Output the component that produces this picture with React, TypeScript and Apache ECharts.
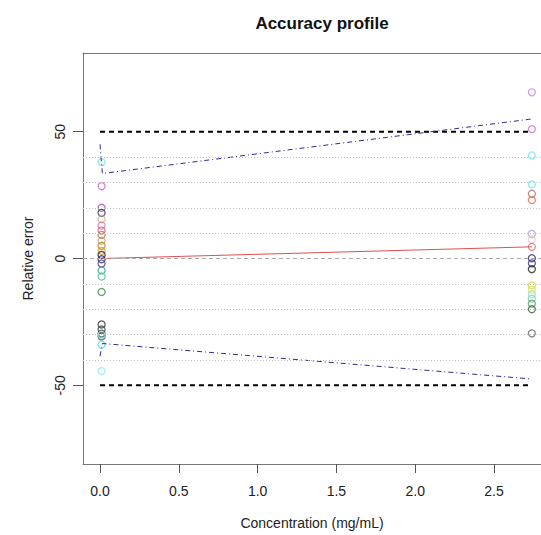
import React, { useEffect, useRef } from "react";
import * as echarts from "echarts";

const lowConc = 0.01;
const highConc = 2.74;

const lowErrors = [38, 28.5, 20, 18, 15.5, 13, 11, 9.3, 7, 5, 3, 1.4, -0.3, -2, -4.7, -7.1, -13.2, -26, -28, -29.6, -30.7, -30, -34, -44.4];
const lowColors = [
  "#78e0ea", "#d060d0", "#9a4f9a", "#3a2e5a", "#c8b890", "#e070a8", "#d06080", "#9a7a50",
  "#c0a070", "#c08020", "#d0a020", "#222222", "#202080", "#504080", "#40a090", "#50c0a0",
  "#3a8a3a", "#333333", "#444444", "#333333", "#555555", "#80e0ee", "#60d8e8", "#90e8f0",
];

const highErrors = [65.5, 51, 40.6, 29.2, 25.5, 23, 9.7, 7.5, 4.6, 0.1, -1.9, -4.2, -10.6, -12.3, -14.1, -15.8, -17.8, -20, -29.5];
const highColors = [
  "#d080e0", "#d070d0", "#70e0f0", "#70e0f0", "#b07060", "#e07050", "#b0a0c0", "#f0c0d0",
  "#e07070", "#202080", "#303070", "#222222", "#d0e040", "#e0e060", "#90e0d0", "#80d0b0",
  "#50a060", "#306030", "#666666",
];

const tolX = [0, 0.015, 2.74];
const upperTol = [45, 33.5, 55];
const lowerTol = [-38.5, -33.5, -47.5];

const biasX = [0.015, 2.74];
const bias = [0, 4.6];

const limitX = [0, 2.74];
const acceptance = 50;

const refLines = [-40, -30, -20, -10, 10, 20, 30, 40];
const xTicks = [0, 0.5, 1, 1.5, 2, 2.5];
const yTicks = [-50, 0, 50];

const FONT = "Liberation Sans";
const X_MIN = -0.108;
const X_MAX = 2.798;

export default function App() {
  const ref = useRef<HTMLDivElement>(null);
  useEffect(() => {
    if (!ref.current) return;
    const chart = echarts.init(ref.current, null, { renderer: "svg" });
    const points = [
      ...lowErrors.map((v, i) => ({ value: [lowConc, v], itemStyle: { borderColor: lowColors[i] } })),
      ...highErrors.map((v, i) => ({ value: [highConc, v], itemStyle: { borderColor: highColors[i] } })),
    ];
    const boxLine = { show: true, onZero: false, lineStyle: { color: "#777", width: 1 } };
    chart.setOption({
      animation: false,
      title: {
        text: "Accuracy profile",
        left: 317,
        top: 10,
        textAlign: "center",
        textStyle: { fontFamily: FONT, fontSize: 17, fontWeight: "bold", color: "#111" },
      },
      grid: {
        left: 83,
        top: 53,
        right: 0,
        bottom: 65,
        show: false,
      },
      xAxis: [
        {
          type: "value",
          min: X_MIN,
          max: X_MAX,
          name: "Concentration (mg/mL)",
          nameLocation: "middle",
          nameGap: 52,
          nameTextStyle: { fontFamily: FONT, fontSize: 14, color: "#222" },
          axisLine: boxLine,
          splitLine: { show: false },
          axisTick: { show: true, length: 9, customValues: xTicks, lineStyle: { color: "#555" } },
          axisLabel: {
            customValues: xTicks,
            margin: 20,
            fontFamily: FONT,
            fontSize: 14,
            color: "#222",
            formatter: (v: number) => v.toFixed(1),
          },
        },
        {
          type: "value",
          position: "top",
          min: X_MIN,
          max: X_MAX,
          axisLine: boxLine,
          axisTick: { show: false },
          axisLabel: { show: false },
          splitLine: { show: false },
        },
      ],
      yAxis: {
        type: "value",
        min: -81,
        max: 81,
        name: "Relative error",
        nameLocation: "middle",
        nameGap: 48,
        nameRotate: 90,
        nameTextStyle: { fontFamily: FONT, fontSize: 14, color: "#222" },
        axisLine: boxLine,
        splitLine: { show: false },
        axisTick: { show: true, length: 10, customValues: yTicks, lineStyle: { color: "#555" } },
        axisLabel: {
          customValues: yTicks,
          rotate: 90,
          margin: 16,
          fontFamily: FONT,
          fontSize: 14,
          color: "#222",
        },
      },
      series: [
        {
          type: "line",
          data: [],
          silent: true,
          markLine: {
            symbol: "none",
            silent: true,
            label: { show: false },
            lineStyle: { color: "#c4c4c4", type: [1, 2], width: 1 },
            data: [
              ...refLines.map((y) => ({ yAxis: y })),
              { yAxis: 0, lineStyle: { color: "#aaaaaa", type: [4, 3], width: 1 } },
            ],
          },
        },
        {
          type: "line",
          data: limitX.map((x) => [x, acceptance]),
          symbol: "none",
          lineStyle: { color: "#000", type: [5, 4], width: 2 },
        },
        {
          type: "line",
          data: limitX.map((x) => [x, -acceptance]),
          symbol: "none",
          lineStyle: { color: "#000", type: [5, 4], width: 2 },
        },
        {
          type: "line",
          data: tolX.map((x, i) => [x, upperTol[i]]),
          symbol: "none",
          lineStyle: { color: "#2a2a9a", type: [5, 3, 1, 3], width: 1 },
        },
        {
          type: "line",
          data: tolX.map((x, i) => [x, lowerTol[i]]),
          symbol: "none",
          lineStyle: { color: "#2a2a9a", type: [5, 3, 1, 3], width: 1 },
        },
        {
          type: "line",
          data: biasX.map((x, i) => [x, bias[i]]),
          symbol: "none",
          lineStyle: { color: "#e05050", width: 1 },
        },
        {
          type: "scatter",
          data: points,
          symbol: "circle",
          symbolSize: 7,
          itemStyle: { color: "rgba(0,0,0,0)", borderWidth: 1.3 },
        },
      ],
    });
    return () => chart.dispose();
  }, []);
  return (
    <div
      ref={ref}
      style={{ position: "absolute", left: 0, top: 0, width: 541, height: 535, background: "#fff" }}
    />
  );
}
